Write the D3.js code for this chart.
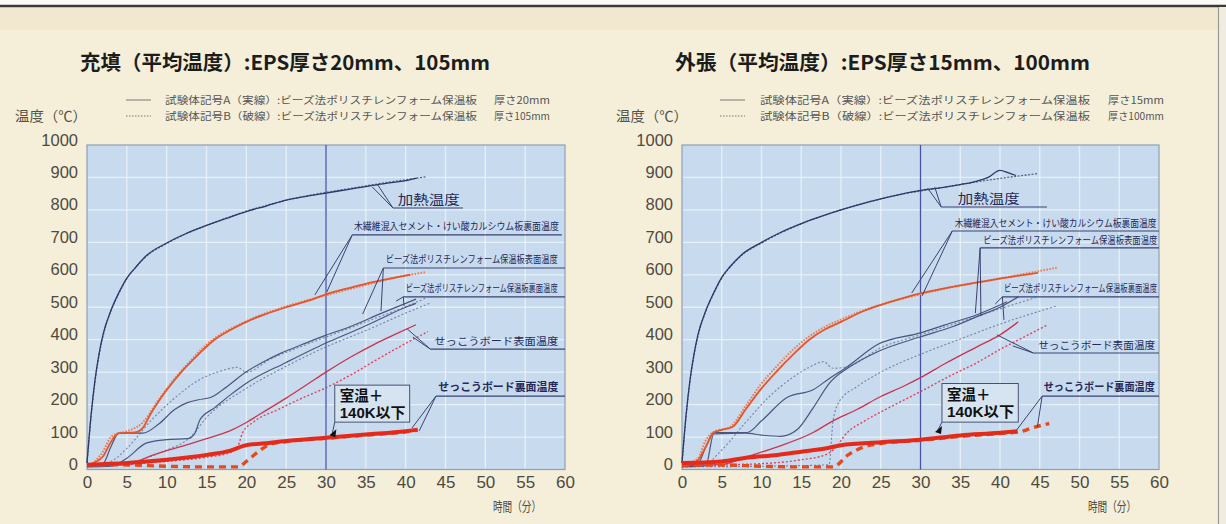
<!DOCTYPE html>
<html><head><meta charset="utf-8">
<script src="https://cdn.jsdelivr.net/npm/d3@7"></script>
<style>
html,body{margin:0;padding:0;background:#f4eed8;}
svg{display:block;}
</style></head><body>
<svg id="c" width="1226" height="524"></svg>
<script>
// ---------- axis ticks ----------
const timeTicks = [0,5,10,15,20,25,30,35,40,45,50,55,60];
const tempTicks = [0,100,200,300,400,500,600,700,800,900,1000];

// ---------- LEFT: 充填 (EPS 20mm / 105mm) ----------
const L_heatA = [[0,20],[0.5,165],[1,275],[1.5,355],[2,415],[3,490],[4,545],[5,590],[6,620],[7.5,660],[10,698],[12.5,728],[15,752],[17.5,774],[20,795],[22.5,812],[25,830],[27.5,842],[30,852],[32.5,862],[35,872],[37.5,882],[40,890],[41.4,898]];
const L_heatB = [[0,20],[0.5,160],[1,270],[1.5,350],[2,410],[3,488],[4,543],[5,588],[6,620],[7.5,658],[10,696],[12.5,727],[15,752],[17.5,775],[20,796],[22.5,814],[25,830],[27.5,843],[30,854],[32.5,864],[35,874],[37.5,884],[40,893],[42.5,902]];
const L_boardA = [[0,12],[1,22],[2,40],[3,85],[4,112],[6,114],[7,128],[8,172],[10,245],[12,305],[14,355],[16,400],[18,430],[20,455],[22,475],[25,500],[28,522],[30,540],[33,560],[36,578],[38,588],[40.6,600]];
const L_boardB = [[0,12],[1,25],[2,55],[3,100],[4,112],[5,118],[7,145],[9,215],[11,280],[13,335],[15,385],[17,420],[19,445],[21,468],[24,495],[27,517],[30,537],[33,556],[36,575],[39,593],[42.5,608]];
const L_epsSurfA = [[0,12],[2,18],[3,70],[4,112],[7,112],[9,140],[11,185],[12.6,206],[14,215],[15.5,222],[17,245],[20,301],[22,330],[24.3,358],[27,385],[30,414],[33,440],[37,482],[40,512],[41.3,525]];
const L_epsSurfB = [[0,10],[3,25],[5,65],[8,150],[11,220],[14,275],[17,305],[18.9,315],[20,300],[23,340],[27,380],[30,408],[35,455],[40,502],[42.5,528]];
const L_epsBackA = [[0,8],[3,10],[5,35],[7.5,82],[10,92],[12.6,95],[13.5,110],[14.2,154],[16,190],[18,230],[20,266],[25,330],[30,390],[34,432],[37,466],[40,500],[41.3,512]];
const L_epsBackB = [[0,8],[5,20],[10,60],[13,100],[15,160],[20,250],[25,318],[30,378],[35,428],[40,482],[43,512]];
const L_gypSurfA = [[0,12],[5,15],[8,42],[10,58],[12,72],[15,95],[18,120],[20,145],[22,175],[25,220],[28,268],[30,300],[33,345],[36,385],[39,420],[41.3,446]];
const L_gypSurfB = [[0,12],[10,25],[15,38],[18,52],[19,75],[19.5,112],[21,148],[24,185],[27,220],[30,252],[33,290],[36,333],[39,375],[42.8,425]];
const L_gypBackA = [[0,15],[5,20],[10,30],[15,45],[18,58],[20,75],[22,80],[25,88],[30,98],[35,108],[40,118],[41.5,123]];
const L_gypBackB = [[0,15],[5,14],[10,10],[15,8],[19,8],[20,25],[21.5,55],[23,78],[25,86],[30,96],[35,106],[40,116],[41.5,121]];

// ---------- RIGHT: 外張 (EPS 15mm / 100mm) ----------
const R_heatA = [[0,20],[0.5,165],[1,275],[1.5,355],[2,415],[3,490],[4,545],[5,592],[6,624],[7.5,662],[10,700],[12.5,732],[15,758],[17.5,780],[20,800],[22.5,818],[25,834],[27.5,848],[30,860],[32.5,868],[35,878],[37,888],[38.5,900],[40,922],[41,915],[42,906]];
const R_heatB = [[0,20],[0.5,160],[1,270],[1.5,350],[2,410],[3,488],[4,543],[5,590],[6,622],[7.5,660],[10,698],[12.5,730],[15,757],[17.5,780],[20,800],[22.5,818],[25,834],[27.5,848],[30,858],[32.5,868],[35,878],[37.5,888],[40,897],[42.5,905],[44.8,912]];
const R_boardA = [[0,12],[1,15],[2,28],[3,70],[4,114],[5,122],[6.4,132],[8,185],[10,250],[12,305],[14,355],[16,400],[18,432],[20,455],[23,490],[26,515],[30,543],[34,563],[38,580],[42,596],[44.8,606]];
const R_boardB = [[0,12],[2,35],[3,90],[4,116],[6,130],[8,195],[10,265],[12,320],[14,370],[16,410],[18,440],[20,462],[23,492],[26,515],[30,540],[34,562],[38,580],[42,598],[47.2,622]];
const R_epsSurfA = [[0,12],[2,18],[3,70],[4,114],[8.2,114],[10,150],[13.2,222],[16.5,246],[18.5,280],[20.8,317],[24.6,385],[30,421],[33,445],[37.1,477],[40.9,517]];
const R_epsSurfB = [[0,10],[3,18],[5,60],[8,145],[11,225],[14,285],[16,315],[17.8,332],[19,312],[21,318],[25,375],[30,415],[35,455],[40,495],[44.5,530]];
const R_epsBackA = [[0,8],[3,12],[4,110],[8,112],[10,106],[12.4,102],[14.5,123],[16.5,190],[18.6,268],[21,315],[24.6,363],[30,409],[34,440],[37.1,471],[40,500],[42.3,532]];
const R_epsBackB = [[0,8],[10,10],[15,12],[18.5,15],[19,150],[19.8,210],[22,255],[25,300],[30,355],[35,402],[40,448],[45,488],[47,503]];
const R_gypSurfA = [[0,12],[5,15],[8.2,40],[12,70],[16.5,114],[19,150],[22,185],[25,225],[28,258],[30,283],[33,325],[37.1,378],[40,415],[42.3,455]];
const R_gypSurfB = [[0,12],[10,18],[15,30],[18,45],[19.1,62],[20.8,114],[23,150],[26,190],[30,240],[34,292],[37.1,329],[40,370],[43,408],[46,446]];
const R_gypBackA = [[0,20],[5,25],[8.3,37],[12,45],[15,55],[18,65],[20,75],[25,84],[30,92],[35,105],[40,113],[42.2,118]];
const R_gypBackB = [[0,14],[5,14],[10,10],[15,8],[19,8],[20.9,45],[22.9,70],[25,80],[30,90],[35,102],[40,111],[42.5,116],[44,128],[46.2,142]];

// ---------- texts ----------
const titleL = "充填（平均温度）:EPS厚さ20mm、105mm";
const titleR = "外張（平均温度）:EPS厚さ15mm、100mm";
const legendA = "試験体記号A（実線）:ビーズ法ポリスチレンフォーム保温板";
const legendB = "試験体記号B（破線）:ビーズ法ポリスチレンフォーム保温板";
const thickL = ["厚さ20mm","厚さ105mm"];
const thickR = ["厚さ15mm","厚さ100mm"];
const yTitle = "温度（℃）";
const xTitle = "時間（分）";
const lblHeat = "加熱温度";
const lblBoard = "木繊維混入セメント・けい酸カルシウム板裏面温度";
const lblEpsSurf = "ビーズ法ポリスチレンフォーム保温板表面温度";
const lblEpsBack = "ビーズ法ポリスチレンフォーム保温板裏面温度";
const lblGypSurf = "せっこうボード表面温度";
const lblGypBack = "せっこうボード裏面温度";
const lblLimit = ["室温＋","140K以下"];

// ---------- drawing ----------
const svg = d3.select('#c');
const CJK = "'Noto Sans CJK JP','Noto Sans',sans-serif";
const NUM = "'Liberation Sans','DejaVu Sans',sans-serif";
const BOXF = "'Liberation Sans','Noto Sans CJK JP',sans-serif";

// page frame
svg.append('rect').attr('x',0).attr('y',0).attr('width',1226).attr('height',524).attr('fill','#f5efd9');
svg.append('rect').attr('x',0).attr('y',0).attr('width',1226).attr('height',5).attr('fill','#fbfaf6');
svg.append('rect').attr('x',0).attr('y',8).attr('width',1218).attr('height',22).attr('fill','#efe5cb').attr('opacity',0.7);
svg.append('line').attr('x1',0).attr('x2',1226).attr('y1',6).attr('y2',6).attr('stroke','#3a3a3a').attr('stroke-width',2.5);
svg.append('rect').attr('x',1219).attr('y',7).attr('width',7).attr('height',517).attr('fill','#f1ece0');
svg.append('line').attr('x1',1218.5).attr('x2',1218.5).attr('y1',7).attr('y2',524).attr('stroke','#9a9a92').attr('stroke-width',1.2);

const styles = {
  heatA:{stroke:'#2e3866',w:1.3,dash:null},
  heatB:{stroke:'#55618c',w:1.3,dash:'2,1.5'},
  boardA:{stroke:'#e4552c',w:1.8,dash:null},
  boardB:{stroke:'#ef7a4e',w:2,dash:'1.6,1.4'},
  epsA:{stroke:'#4a557f',w:1.2,dash:null},
  epsB:{stroke:'#7482a6',w:1.1,dash:'2,2'},
  gypSA:{stroke:'#c8344f',w:1.3,dash:null},
  gypSB:{stroke:'#e2405a',w:1.4,dash:'2,2'},
  gypBA:{stroke:'#e52a1a',w:4,dash:null},
  gypBB:{stroke:'#e8481e',w:3.4,dash:'7,5'}
};

function drawChart(o){
  const g = svg.append('g');
  const x = d3.scaleLinear().domain([0,60]).range([o.x0,o.x1]);
  const y = d3.scaleLinear().domain([0,1000]).range([469.5,145]);

  // title
  g.append('text').attr('x',o.titleX).attr('y',70).text(o.title)
    .attr('font-family',CJK).attr('font-weight',700).attr('font-size',20)
    .attr('fill','#1c1c1c').attr('textLength',o.titleW).attr('lengthAdjust','spacingAndGlyphs');

  // legend
  const rows=[{t:legendA,th:o.thick[0],dash:null,y:100},{t:legendB,th:o.thick[1],dash:'1.5,1.5',y:116}];
  rows.forEach(r=>{
    g.append('line').attr('x1',o.legX).attr('x2',o.legX+25).attr('y1',r.y).attr('y2',r.y)
      .attr('stroke','#777').attr('stroke-width',1).attr('stroke-dasharray',r.dash);
    g.append('text').attr('x',o.legTX).attr('y',r.y+4).text(r.t)
      .attr('font-family',CJK).attr('font-size',10).attr('fill','#555')
      .attr('textLength',o.legTW).attr('lengthAdjust','spacingAndGlyphs');
    g.append('text').attr('x',o.legThX).attr('y',r.y+4).text(r.th)
      .attr('font-family',CJK).attr('font-size',10).attr('fill','#555')
      .attr('textLength',r.th.length>7?62:56).attr('lengthAdjust','spacingAndGlyphs');
  });
  g.append('text').attr('x',o.yTitleX).attr('y',121).text(yTitle)
    .attr('font-family',CJK).attr('font-size',14).attr('fill','#555048')
    .attr('textLength',72).attr('lengthAdjust','spacingAndGlyphs');

  // plot area
  g.append('rect').attr('x',x(0)).attr('y',y(1000)).attr('width',x(60)-x(0)).attr('height',y(0)-y(1000))
    .attr('fill','#c8dbee');
  g.selectAll('.vg').data(timeTicks.slice(1,-1)).join('line')
    .attr('x1',d=>x(d)).attr('x2',d=>x(d)).attr('y1',y(1000)).attr('y2',y(0))
    .attr('stroke','#eef5fb').attr('stroke-width',1.3).attr('opacity',0.8);
  g.selectAll('.hg').data(tempTicks.slice(1,-1)).join('line')
    .attr('x1',x(0)).attr('x2',x(60)).attr('y1',d=>y(d)).attr('y2',d=>y(d))
    .attr('stroke','#eef5fb').attr('stroke-width',1.3).attr('opacity',0.8);
  g.append('rect').attr('x',x(0)).attr('y',y(1000)).attr('width',x(60)-x(0)).attr('height',y(0)-y(1000))
    .attr('fill','none').attr('stroke','#8c9fb4').attr('stroke-width',1.2);
  // 30 min reference line
  g.append('line').attr('x1',x(30)).attr('x2',x(30)).attr('y1',y(1000)).attr('y2',y(0))
    .attr('stroke','#4652a6').attr('stroke-width',1.3);

  // axes
  const xa = g.append('g').attr('transform',`translate(0,${y(0)})`)
    .call(d3.axisBottom(x).tickValues(timeTicks).tickSize(0).tickPadding(6).tickFormat(d3.format('d')));
  xa.select('.domain').remove();
  xa.selectAll('text').attr('font-family',NUM).attr('font-size',17).attr('fill','#4e4a42').attr('dy','0.75em');
  const ya = g.append('g').attr('transform',`translate(${x(0)},0)`)
    .call(d3.axisLeft(y).tickValues(tempTicks).tickSize(0).tickPadding(9).tickFormat(d3.format('d')));
  ya.select('.domain').remove();
  ya.selectAll('text').attr('font-family',NUM).attr('font-size',16.5).attr('fill','#4e4a42').attr('dy','0.0em');
  g.append('text').attr('x',o.xTitleX).attr('y',511).text(xTitle)
    .attr('font-family',CJK).attr('font-size',13).attr('fill','#4e4a42')
    .attr('textLength',48).attr('lengthAdjust','spacingAndGlyphs');

  // series
  const line = d3.line().x(d=>x(d[0])).y(d=>y(d[1])).curve(d3.curveMonotoneX);
  o.series.forEach(s=>{
    const st = styles[s.style];
    g.append('path').datum(s.data).attr('d',line).attr('fill','none')
      .attr('stroke',st.stroke).attr('stroke-width',st.w).attr('stroke-dasharray',st.dash)
      .attr('stroke-linejoin','round');
  });

  // annotations
  o.annots.forEach(a=>{
    a.leaders.forEach(p=>{
      g.append('line').attr('x1',x(a.ul[0])).attr('y1',y(a.ul[2])).attr('x2',x(p[0])).attr('y2',y(p[1]))
        .attr('stroke','#3a4270').attr('stroke-width',1);
    });
    g.append('line').attr('x1',x(a.ul[0])).attr('x2',x(a.ul[1])).attr('y1',y(a.ul[2])).attr('y2',y(a.ul[2]))
      .attr('stroke','#3a4270').attr('stroke-width',1.1);
    g.append('text').attr('x',x(a.tx)).attr('y',y(a.ty)).text(a.text)
      .attr('font-family',CJK).attr('font-size',a.size).attr('font-weight',a.bold?700:400)
      .attr('fill','#24295a').attr('textLength',a.tw).attr('lengthAdjust','spacingAndGlyphs');
  });

  // limit box
  const b = o.box;
  g.append('line').attr('x1',x(b.t0)).attr('y1',y(b.v1)).attr('x2',x(b.mt)).attr('y2',y(b.mv))
    .attr('stroke','#3a4270').attr('stroke-width',1);
  g.append('rect').attr('x',x(b.t0)).attr('y',y(b.v0)).attr('width',x(b.t1)-x(b.t0)).attr('height',y(b.v1)-y(b.v0))
    .attr('fill','#d6e4f1').attr('stroke','#4a5070').attr('stroke-width',1);
  g.append('text').attr('x',x(b.t0)+5).attr('y',y(b.v0)+16).text(lblLimit[0])
    .attr('font-family',BOXF).attr('font-weight',700).attr('font-size',14.5).attr('fill','#111');
  g.append('text').attr('x',x(b.t0)+5).attr('y',y(b.v0)+33).text(lblLimit[1])
    .attr('font-family',BOXF).attr('font-weight',700).attr('font-size',14.5).attr('fill','#111')
    .attr('textLength',x(b.t1)-x(b.t0)-9).attr('lengthAdjust','spacingAndGlyphs');
  const mx=x(b.mt), my=y(b.mv);
  g.append('path').attr('d',`M${mx-3},${my+2} L${mx+4},${my-4} L${mx+3},${my+4} Z`).attr('fill','#111');
}

drawChart({
  x0:87, x1:565, title:titleL, titleX:80, titleW:410,
  legX:126, legTX:165, legTW:312, legThX:494, thick:thickL, yTitleX:15, xTitleX:493,
  series:[
    {data:L_heatB,style:'heatB'},{data:L_heatA,style:'heatA'},
    {data:L_epsBackB,style:'epsB'},{data:L_epsSurfB,style:'epsB'},
    {data:L_epsBackA,style:'epsA'},{data:L_epsSurfA,style:'epsA'},
    {data:L_boardB,style:'boardB'},{data:L_boardA,style:'boardA'},
    {data:L_gypSurfB,style:'gypSB'},{data:L_gypSurfA,style:'gypSA'},
    {data:L_gypBackB,style:'gypBB'},{data:L_gypBackA,style:'gypBA'}
  ],
  annots:[
    {text:lblHeat,tx:39.0,ty:818,tw:62,size:13,ul:[38.4,47.2,806],leaders:[[35.8,871],[36.5,877]]},
    {text:lblBoard,tx:33.5,ty:738,tw:205,size:10,ul:[33.3,59.6,723],leaders:[[28.6,538],[30.1,547]]},
    {text:lblEpsSurf,tx:37.5,ty:636,tw:172,size:10,ul:[37.2,60,621],leaders:[[34.6,479],[36.9,488]]},
    {text:lblEpsBack,tx:40.0,ty:547,tw:152,size:10,ul:[39.7,60,532],leaders:[[38.8,519],[39.8,504]]},
    {text:lblGypSurf,tx:43.6,ty:384,tw:124,size:10.5,ul:[43.1,60,371],leaders:[[40.2,433],[40.9,408]]},
    {text:lblGypBack,tx:44.1,ty:242,tw:120,size:11,bold:true,ul:[43.8,60,226],leaders:[[40.8,128],[41.7,119]]}
  ],
  box:{t0:31.1,t1:40.5,v0:260,v1:146,mt:30.8,mv:112}
});

drawChart({
  x0:682, x1:1159, title:titleR, titleX:675, titleW:415,
  legX:720, legTX:760, legTW:330, legThX:1108, thick:thickR, yTitleX:616, xTitleX:1088,
  series:[
    {data:R_heatB,style:'heatB'},{data:R_heatA,style:'heatA'},
    {data:R_epsBackB,style:'epsB'},{data:R_epsSurfB,style:'epsB'},
    {data:R_epsBackA,style:'epsA'},{data:R_epsSurfA,style:'epsA'},
    {data:R_boardB,style:'boardB'},{data:R_boardA,style:'boardA'},
    {data:R_gypSurfB,style:'gypSB'},{data:R_gypSurfA,style:'gypSA'},
    {data:R_gypBackB,style:'gypBB'},{data:R_gypBackA,style:'gypBA'}
  ],
  annots:[
    {text:lblHeat,tx:34.7,ty:821,tw:62,size:13,ul:[32.6,45.9,809],leaders:[[30.9,867],[31.8,870]]},
    {text:lblBoard,tx:34.3,ty:747,tw:202,size:10,ul:[34.0,60,735],leaders:[[28.9,544],[30.2,535]]},
    {text:lblEpsSurf,tx:37.9,ty:695,tw:174,size:10,ul:[37.5,60,683],leaders:[[36.9,482],[37.6,473]]},
    {text:lblEpsBack,tx:40.5,ty:547,tw:153,size:10,ul:[40.3,60,532],leaders:[[39.4,510],[40.5,461]]},
    {text:lblGypSurf,tx:44.8,ty:371,tw:117,size:10.5,ul:[44.2,60,359],leaders:[[39.6,415],[41.6,381]]},
    {text:lblGypBack,tx:45.5,ty:242,tw:111,size:11,bold:true,ul:[45.3,60,226],leaders:[[42.1,122],[44.7,131]]}
  ],
  box:{t0:32.7,t1:42.3,v0:265,v1:146,mt:32.2,mv:122}
});
</script>
</body></html>
